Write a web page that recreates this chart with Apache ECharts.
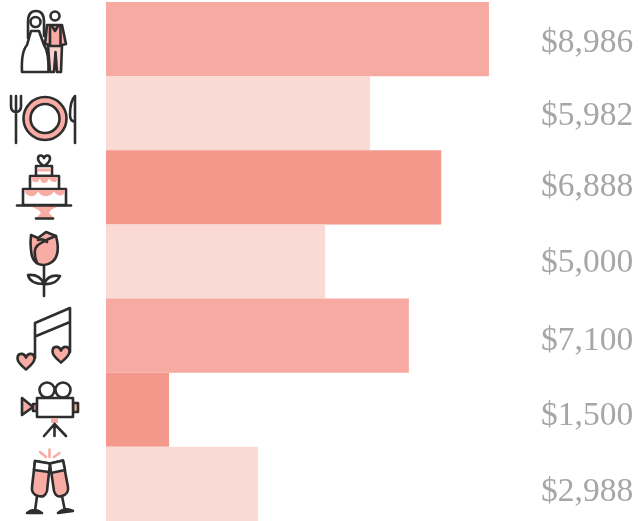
<!DOCTYPE html>
<html>
<head>
<meta charset="utf-8">
<script src="https://cdn.jsdelivr.net/npm/echarts@6/dist/echarts.min.js"></script>
<style>
  html, body { margin: 0; padding: 0; background: #fff; }
  #main { width: 640px; height: 521px; }
</style>
</head>
<body>
<div id="main"></div>
<script>
var categories = ['Wedding attire', 'Catering', 'Cake', 'Flowers', 'Music', 'Video', 'Toast'];
// bar lengths, they do not follow the printed amounts exactly
var barValues = [8990, 6200, 7870, 5140, 7110, 1480, 3570];
var amountLabels = ['$8,986', '$5,982', '$6,888', '$5,000', '$7,100', '$1,500', '$2,988'];

var barColors = ['#f7aaa2', '#fbd9d5', '#f4988c'];
var colorOrder = [0, 1, 2, 1, 0, 2, 1];
// the amounts sit a little lower than their bars, more so further down
var labelShift = [4, 3, 0, 2, 6, 6, 8];
var ink = '#2e2e2e';
var pink = '#f8aca4';

var myChart = echarts.init(document.getElementById('main'));

function heart(x, y, r) {
    return 'M' + x + ' ' + (y + r) +
        ' C' + (x - r * 0.5) + ' ' + (y + r * 0.55) + ' ' + (x - r) + ' ' + (y + r * 0.2) + ' ' + (x - r) + ' ' + (y - r * 0.3) +
        ' C' + (x - r) + ' ' + (y - r) + ' ' + (x - r * 0.2) + ' ' + (y - r) + ' ' + x + ' ' + (y - r * 0.4) +
        ' C' + (x + r * 0.2) + ' ' + (y - r) + ' ' + (x + r) + ' ' + (y - r) + ' ' + (x + r) + ' ' + (y - r * 0.3) +
        ' C' + (x + r) + ' ' + (y + r * 0.2) + ' ' + (x + r * 0.5) + ' ' + (y + r * 0.55) + ' ' + x + ' ' + (y + r) + ' Z';
}

function circle(x, y, r) {
    return 'M' + (x - r) + ' ' + y + ' A' + r + ' ' + r + ' 0 1 1 ' + (x + r) + ' ' + y +
        ' A' + r + ' ' + r + ' 0 1 1 ' + (x - r) + ' ' + y + ' Z';
}

// icons: [path, fill, stroke], stroke is the dark ink unless noted
var iconLayers = [
    // bride and groom
    ['M28 38 V22 Q28 11 36 11 Q44 11 44 22 V36', '#fff'],
    [circle(35.5, 22, 5), '#fff'],
    ['M31 31 L39 31 L44 45 Q49 52 48.5 72 H22 Q21 52 27 45 Z', '#fff'],
    [circle(55, 16, 4.5), '#fff'],
    ['M48 45 H62 L61 72 H57 L55.5 52 L54 72 H50 Z', '#fbd0cb'],
    ['M47 25 L62 25 L66 44 L62 45 L61 46 H50 V45 L45 44 Z', pink],
    ['M50 26 V45 M60.5 26 V45 M52 26 L55 31 L58 26', null],
    // plate and cutlery
    ['M11 96 V106 Q11 112 16 112 Q21 112 21 106 V96 M16 96 V143', null],
    [circle(45, 118.5, 21.5), pink],
    [circle(45, 118.5, 14.5), '#fff'],
    ['M75 96 Q70 101 70 115 Q70 121 75 122 Z M75 96 V143', null],
    // cake
    [heart(44, 160.5, 6), '#fff'],
    ['M36 166 H52 V176 H36 Z', '#fff'],
    ['M37 168.5 H51 V171.5 H37 Z', pink, 'none'],
    ['M30 176 H59 V190 H30 Z', '#fff'],
    ['M31 177 H58 Q57 183 54 182 Q51 182 49 178.5 Q47 183 44.5 183 Q41 183 40 178.5 Q38 183 35 182 Q32 182 31 177 Z', pink, 'none'],
    ['M23 189 H66 V205 H23 Z', '#fff'],
    ['M24 190 H65 Q64 196 60 195.5 Q56 195 54 191.5 Q50 197 45 196 Q41 196 38 191.5 Q35 197 31 196 Q26 196 24 190 Z', pink, 'none'],
    ['M29 206 H60 Q50 209 49 213 L54 218 H36 L41 213 Q39 209 29 206 Z', pink, 'none'],
    ['M36 218.5 H53', null],
    ['M17 205.5 H71', null],
    // rose
    ['M44 265 V296', null],
    ['M44 284 Q40 274 28 275 Q30 284 44 284 Z M44 284 Q48 274 60 276 Q56 285 44 284 Z', '#fff'],
    ['M44 265 Q32 265 31 250 Q30 243 31 235 L38 238 L46 232 L56 236 Q61 255 52 262 Q48 265 44 265 Z', pink],
    ['M37 263 Q32 250 38 245 Q45 240 56 236 M38 240 Q43 238 47 242', null],
    // music notes
    ['M35 358 V323 L70 308 V352 M35 336.5 L70 322', null],
    [heart(26, 361, 8.5), pink],
    [heart(61, 354, 8.5), pink],
    // film camera
    [circle(47, 390, 7.5), '#fff'],
    [circle(63, 390, 7.5), '#fff'],
    ['M22 398 L33 407 L22 415 Z', pink],
    ['M33 404 H37 V411 H33 Z', pink],
    ['M73 403 H78 V412 H73 Z', pink],
    ['M37 398 H73 V417 H37 Z', '#fff'],
    ['M51 418 H58 V423 H51 Z', pink, 'none'],
    ['M54.5 424 L44 436 M54.5 424 V436 M54.5 424 L66 436', null],
    // champagne glasses
    ['M40 452 L46 457 M49.5 449.5 V457 M54 457 L59.5 453', null, pink],
    ['M35 461 L50 463.5 L47 491 Q45 498 38 496 Q31 494 32 487 Z', pink],
    ['M35 461 L50 463.5 L49 472 L34 470 Z', '#fff'],
    ['M37 496 L35 511 M27 513 Q34 507 42 513 Z', ink],
    ['M50 463.5 L63 460.5 L68 487 Q69 494 62 496 Q56 498 54 491 Z', pink],
    ['M50 463.5 L63 460.5 L65 470 L51 473 Z', '#fff'],
    ['M62 496 L65 511 M58 513 Q65 507 73 511 Z', ink]
];

var icons = iconLayers.map(function (layer) {
    return {
        type: 'path',
        shape: { pathData: layer[0] },
        style: {
            fill: layer[1] || 'none',
            stroke: layer[2] || ink,
            lineWidth: 2.6,
            lineJoin: 'round',
            lineCap: 'round'
        }
    };
});

var option = {
    animation: false,
    backgroundColor: '#fff',
    grid: { left: 106, top: 2, width: 426, height: 519 },
    xAxis: { type: 'value', min: 0, max: 10000, show: false },
    yAxis: { type: 'category', inverse: true, data: categories, show: false },
    series: [
        {
            type: 'bar',
            barWidth: '100%',
            data: barValues.map(function (v, i) {
                return { value: v, itemStyle: { color: barColors[colorOrder[i]] } };
            })
        },
        {
            // amounts down the right side
            type: 'custom',
            silent: true,
            coordinateSystem: 'cartesian2d',
            data: amountLabels.map(function (label, i) {
                return [10000, categories[i]];
            }),
            renderItem: function (params, api) {
                var point = api.coord([api.value(0), params.dataIndex]);
                return {
                    type: 'text',
                    x: point[0] + 9,
                    y: point[1] + labelShift[params.dataIndex],
                    style: {
                        text: amountLabels[params.dataIndex],
                        fill: '#a6a6a6',
                        font: '33.5px "Liberation Serif"',
                        align: 'left',
                        verticalAlign: 'middle'
                    }
                };
            }
        },
        {
            // the icons down the left side
            type: 'custom',
            coordinateSystem: 'none',
            silent: true,
            data: [0],
            renderItem: function () {
                return { type: 'group', children: icons };
            }
        }
    ]
};

option && myChart.setOption(option);
</script>
</body>
</html>
